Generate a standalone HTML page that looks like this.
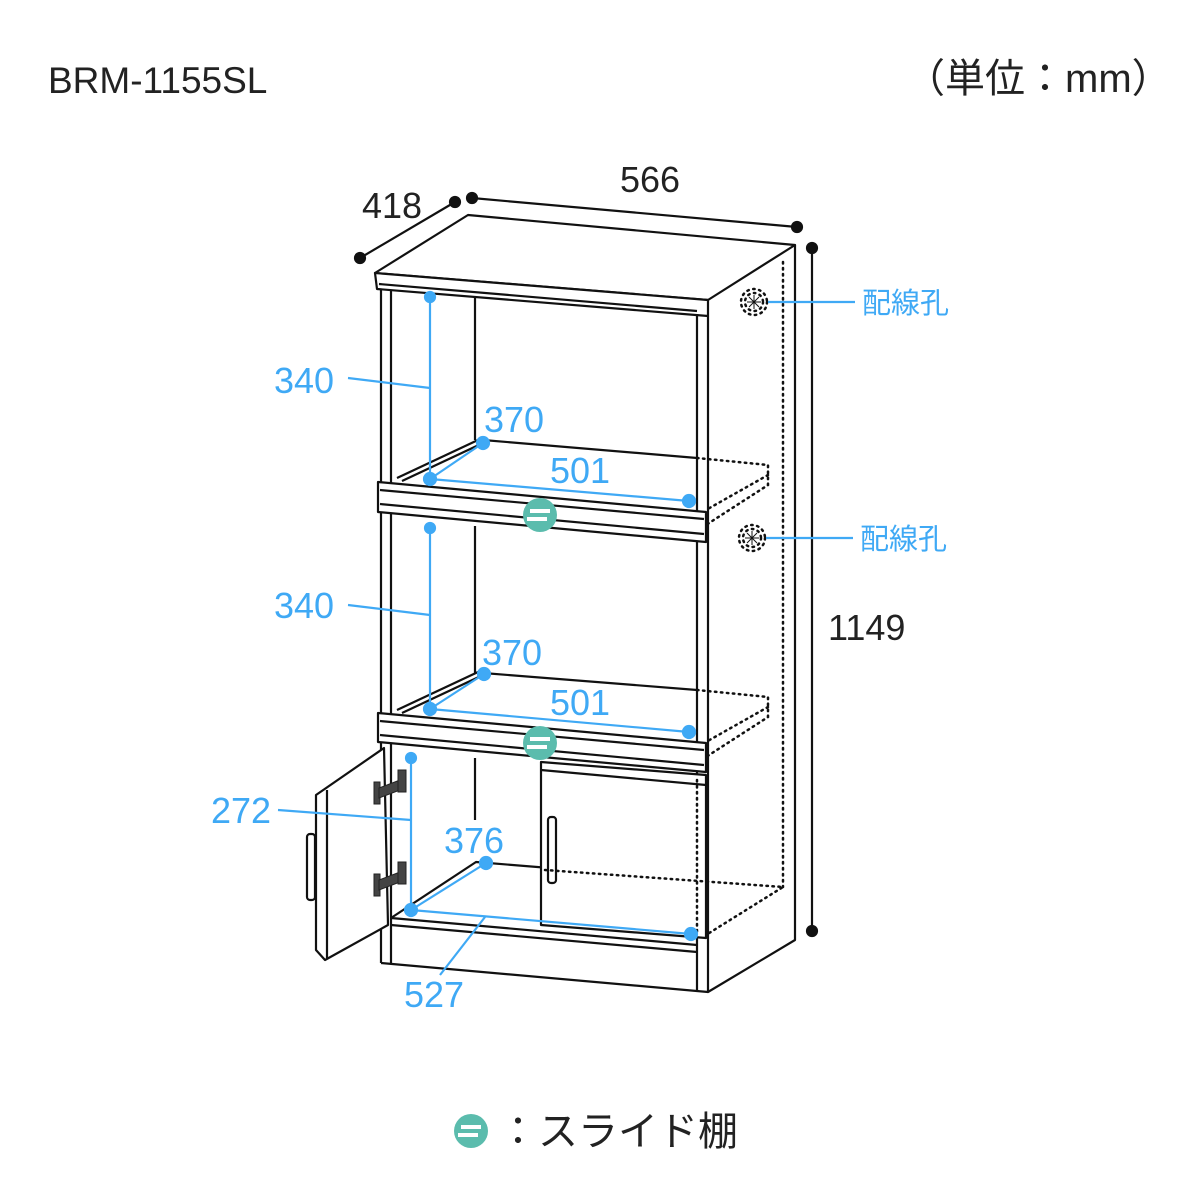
<!DOCTYPE html>
<html><head><meta charset="utf-8"><style>
html,body{margin:0;padding:0;background:#fff;}
svg{display:block;}
text{font-family:"Liberation Sans","Noto Sans CJK JP",sans-serif;}
</style></head><body>
<svg width="1200" height="1200" viewBox="0 0 1200 1200" xmlns="http://www.w3.org/2000/svg">
<text x="48" y="93" font-size="37" fill="#222">BRM-1155SL</text>
<text x="905" y="92" font-size="40" fill="#222">（単位：mm）</text>

<g stroke="#111" stroke-width="2.2" fill="none" stroke-linejoin="round">
<polygon points="375,273 468,215 795,245 708,300" fill="#fff"/>
<polygon points="375,273 708,300 708,316 377,289" fill="#fff"/>
<line x1="379" y1="284" x2="697" y2="311"/>
<polyline points="708,316 708,992 795,940 795,245"/>
<line x1="697" y1="314" x2="697" y2="992"/>
<line x1="381" y1="289" x2="381" y2="963"/>
<line x1="391" y1="290" x2="391" y2="963"/>
<line x1="475" y1="296" x2="475" y2="440"/>
<line x1="475" y1="526" x2="475" y2="673"/>
<line x1="475" y1="758" x2="475" y2="820"/>
<line x1="381" y1="963" x2="708" y2="992"/>
<line x1="391" y1="925" x2="697" y2="952"/>
<line x1="391" y1="918" x2="697" y2="945"/>
<polyline points="391,918 476,862 697,880"/>

<line x1="483" y1="440" x2="697" y2="458"/>
<line x1="397" y1="478" x2="478" y2="440"/>
<line x1="402" y1="481" x2="483" y2="443"/>
<polygon points="378,482 706,512 706,542 378,512" fill="#fff"/>
<line x1="380" y1="490" x2="704" y2="519"/>
<line x1="380" y1="504" x2="704" y2="534"/>
<line x1="483" y1="673" x2="697" y2="690"/>
<line x1="397" y1="710" x2="478" y2="672"/>
<line x1="402" y1="713" x2="483" y2="675"/>
<polygon points="378,713 706,743 706,772 378,742" fill="#fff"/>
<line x1="380" y1="721" x2="704" y2="750"/>
<line x1="380" y1="735" x2="704" y2="765"/>
<polygon points="316,795 384,748 388,925 325,960 316,950" fill="#fff"/>
<line x1="327" y1="790" x2="327" y2="958"/>
<rect x="307" y="834" width="8" height="66" rx="3"/>
<path d="M541,762 L706,775 L706,938 L541,925 Z" fill="#fff"/>
<line x1="541" y1="770" x2="706" y2="785"/>
<rect x="548" y="817" width="8" height="66" rx="3"/>
</g>
<g fill="#444" stroke="#222" stroke-width="1">
<rect x="374" y="782" width="6" height="22"/><polygon points="379,788 400,780 400,790 379,798"/><rect x="398" y="770" width="8" height="22"/>
<rect x="374" y="874" width="6" height="22"/><polygon points="379,880 400,872 400,882 379,890"/><rect x="398" y="862" width="8" height="22"/>
</g>
<g stroke="#111" stroke-width="2.5" fill="none" stroke-dasharray="1.5 4.5" stroke-linecap="round">
<line x1="783" y1="262" x2="783" y2="887"/>
<polyline points="697,458 768,465 768,485 706,525"/>
<polyline points="768,475 706,510"/>
<polyline points="697,690 768,697 768,717 706,757"/>
<polyline points="768,707 706,742"/>
<polyline points="545,870 783,887 706,935"/>
<line x1="697" y1="780" x2="697" y2="935"/>
<circle cx="754" cy="302" r="13"/><circle cx="754" cy="302" r="9"/>
<circle cx="752" cy="538" r="13"/><circle cx="752" cy="538" r="9"/>
</g>
<g stroke="#111" stroke-width="1">
<line x1="747" y1="302" x2="761" y2="302"/><line x1="754" y1="295" x2="754" y2="309"/><line x1="749" y1="297" x2="759" y2="307"/><line x1="759" y1="297" x2="749" y2="307"/>
<line x1="745" y1="538" x2="759" y2="538"/><line x1="752" y1="531" x2="752" y2="545"/><line x1="747" y1="533" x2="757" y2="543"/><line x1="757" y1="533" x2="747" y2="543"/>
</g>
<g stroke="#111" stroke-width="2.2" fill="#111">
<line x1="360" y1="258" x2="455" y2="202"/><circle cx="360" cy="258" r="5"/><circle cx="455" cy="202" r="5"/>
<line x1="472" y1="198" x2="797" y2="227"/><circle cx="472" cy="198" r="5"/><circle cx="797" cy="227" r="5"/>
<line x1="812" y1="248" x2="812" y2="931"/><circle cx="812" cy="248" r="5"/><circle cx="812" cy="931" r="5"/>
</g>
<g font-size="36" fill="#222">
<text x="362" y="218">418</text>
<text x="620" y="192">566</text>
<text x="828" y="640">1149</text>
</g>
<g stroke="#3fa9f5" stroke-width="2.2" fill="#3fa9f5">
<line x1="430" y1="297" x2="430" y2="479"/><line x1="348" y1="378" x2="430" y2="388"/>
<line x1="430" y1="479" x2="483" y2="443"/><line x1="430" y1="479" x2="689" y2="501"/>
<circle cx="430" cy="297" r="5"/><circle cx="430" cy="479" r="6"/><circle cx="483" cy="443" r="6"/><circle cx="689" cy="501" r="6"/>
<line x1="430" y1="528" x2="430" y2="709"/><line x1="348" y1="605" x2="430" y2="615"/>
<line x1="430" y1="709" x2="484" y2="674"/><line x1="430" y1="709" x2="689" y2="732"/>
<circle cx="430" cy="528" r="5"/><circle cx="430" cy="709" r="6"/><circle cx="484" cy="674" r="6"/><circle cx="689" cy="732" r="6"/>
<line x1="411" y1="758" x2="411" y2="910"/><line x1="278" y1="810" x2="411" y2="820"/>
<line x1="411" y1="910" x2="486" y2="863"/><line x1="411" y1="910" x2="691" y2="934"/>
<line x1="485" y1="917" x2="440" y2="975"/>
<circle cx="411" cy="758" r="5"/><circle cx="411" cy="910" r="6"/><circle cx="486" cy="863" r="6"/><circle cx="691" cy="934" r="6"/>
<line x1="768" y1="302" x2="855" y2="302"/><line x1="766" y1="538" x2="853" y2="538"/>
</g>
<g font-size="36" fill="#3fa9f5">
<text x="274" y="393">340</text><text x="484" y="432">370</text><text x="550" y="483">501</text>
<text x="274" y="618">340</text><text x="482" y="665">370</text><text x="550" y="715">501</text>
<text x="211" y="823">272</text><text x="444" y="853">376</text><text x="404" y="1007">527</text>
<text x="862" y="313" font-size="29">配線孔</text><text x="860" y="549" font-size="29">配線孔</text>
</g>
<g>
<circle cx="540" cy="515" r="17" fill="#5bbcad"/><rect x="530" y="509" width="20" height="4" fill="#fff"/><rect x="527" y="517" width="20" height="4" fill="#fff"/>
<circle cx="540" cy="743" r="17" fill="#5bbcad"/><rect x="530" y="737" width="20" height="4" fill="#fff"/><rect x="527" y="745" width="20" height="4" fill="#fff"/>
<circle cx="471" cy="1131" r="17" fill="#5bbcad"/><rect x="461" y="1125" width="20" height="4" fill="#fff"/><rect x="458" y="1133" width="20" height="4" fill="#fff"/>
</g>
<text x="498" y="1145" font-size="40" fill="#222">：スライド棚</text>
</svg>
</body></html>
